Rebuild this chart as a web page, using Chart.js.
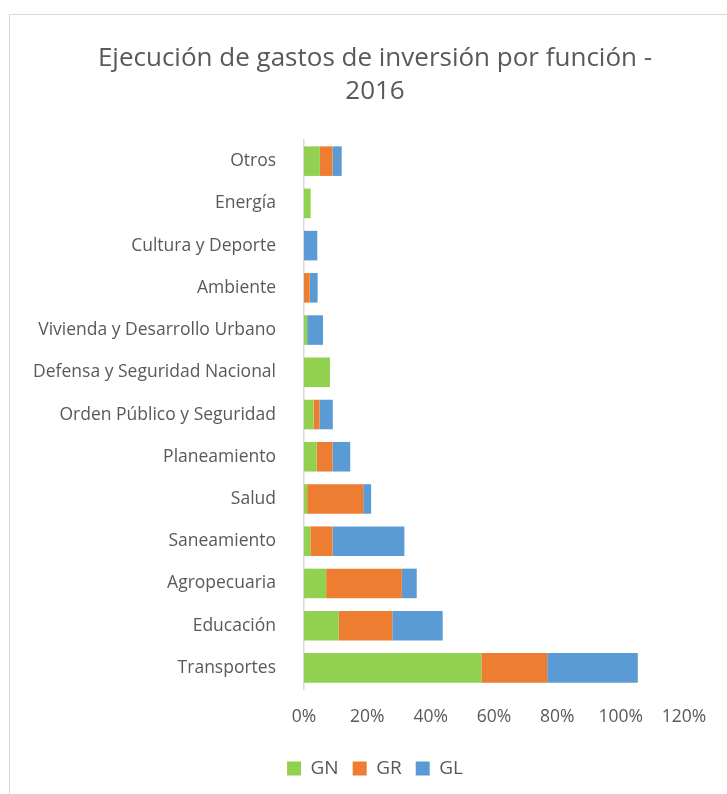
<!DOCTYPE html>
<html>
<head>
<meta charset="utf-8">
<script src="https://cdn.jsdelivr.net/npm/chart.js@4"></script>
<style>
  html, body { margin: 0; padding: 0; background: #fff; }
  #frame { position: absolute; left: 9px; top: 14px; width: 800px; height: 800px;
           border-left: 1px solid #d9d9d9; border-top: 1px solid #d9d9d9; }
  #wrap { position: absolute; left: 0; top: 0; width: 727px; height: 794px; }
</style>
</head>
<body>
<div id="frame"></div>
<div id="wrap"><canvas id="chart"></canvas></div>
<script>
// categorias, de arriba hacia abajo
const funciones = ['Otros', 'Energía', 'Cultura y Deporte', 'Ambiente',
  'Vivienda y Desarrollo Urbano', 'Defensa y Seguridad Nacional',
  'Orden Público y Seguridad', 'Planeamiento', 'Salud', 'Saneamiento',
  'Agropecuaria', 'Educación', 'Transportes'];

// porcentajes
const gn = [5, 2.1, 0, 0, 1, 8.2, 3, 4, 1, 2, 7, 11, 56];
const gr = [4, 0, 0, 1.8, 0, 0, 1.9, 5, 17.7, 7, 23.9, 16.9, 20.8];
const gl = [2.9, 0, 4.2, 2.5, 5, 0, 4.2, 5.6, 2.5, 22.7, 4.7, 15.9, 28.6];

const textColor = '#595959';
const font = "'Open Sans', sans-serif";

function serie(label, data, color) {
  return {
    label: label,
    data: data,
    backgroundColor: color,
    borderWidth: 0,
    categoryPercentage: 1,
    barPercentage: 0.7
  };
}

let ctx = document.getElementById('chart').getContext('2d');
window.chart = new Chart(ctx, {
  type: 'bar',
  data: {
    labels: funciones,
    datasets: [
      serie('GN', gn, '#92D050'),
      serie('GR', gr, '#ED7D31'),
      serie('GL', gl, '#5B9BD5')
    ]
  },
  options: {
    indexAxis: 'y',
    responsive: true,
    maintainAspectRatio: false,
    animation: false,
    layout: {
      padding: { left: 23, right: 0, top: 42, bottom: 6 }
    },
    plugins: {
      title: {
        display: true,
        text: ['Ejecución de gastos de inversión por función -', '2016'],
        color: textColor,
        font: { family: font, size: 26, weight: 'normal', lineHeight: 1.27 },
        padding: { top: 0, bottom: 32 }
      },
      legend: {
        position: 'bottom',
        labels: {
          color: textColor,
          font: { family: font, size: 19 },
          boxWidth: 14,
          boxHeight: 14,
          padding: 14
        }
      },
      tooltip: { enabled: false }
    },
    scales: {
      x: {
        stacked: true,
        min: 0,
        max: 120,
        ticks: {
          stepSize: 20,
          color: textColor,
          font: { family: font, size: 17.5 },
          padding: 10,
          callback: (v) => v + '%'
        },
        grid: { display: false },
        border: { display: false },
        afterFit: (scale) => {
          scale.paddingRight = 43;
          scale.height += 7;
        }
      },
      y: {
        stacked: true,
        ticks: {
          color: textColor,
          font: { family: font, size: 17.5 },
          padding: 20
        },
        grid: { display: false },
        border: { display: true, color: '#d9d9d9', width: 1.5 },
        afterFit: (scale) => { scale.width = 281; }
      }
    }
  }
});
</script>
</body>
</html>
